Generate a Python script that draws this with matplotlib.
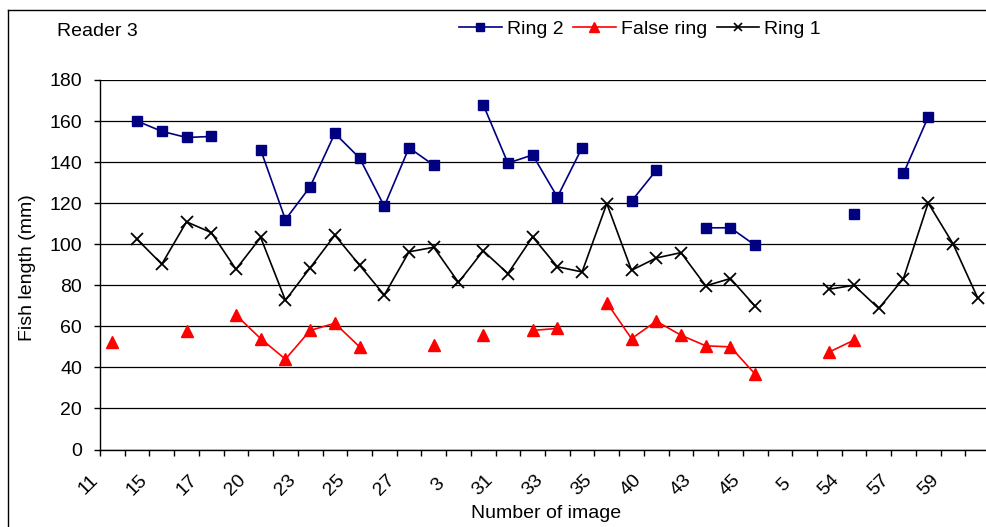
import numpy as np
import matplotlib
matplotlib.use("Agg")
import matplotlib.pyplot as plt
from matplotlib.lines import Line2D
from matplotlib.transforms import ScaledTranslation

plt.rcParams['font.family'] = ['Liberation Sans', 'DejaVu Sans']

nan = np.nan
categories = ['11', '12', '15', '16', '17', '18', '20', '21', '23', '24', '25', '26',
              '27', '28', '3', '30', '31', '32', '33', '34', '35', '36', '40', '41',
              '43', '44', '45', '46', '5', '53', '54', '56', '57', '58', '59', '6']
tick_labels = ['11', '15', '17', '20', '23', '25', '27', '3', '31', '33', '35', '40',
               '43', '45', '5', '54', '57', '59']

ring2 = [nan, 160, 155, 152, 152.5, nan, 146, 112, 128, 154, 142, 118.5,
         147, 138.5, nan, 168, 139.5, 143.5, 123, 147, nan, 121, 136, nan,
         108, 108, 99.5, nan, nan, nan, 114.5, nan, 134.5, 162, nan, nan]
false_ring = [52.5, nan, nan, 57.5, nan, 65.5, 54, 44, 58, 61.5, 50, nan,
              nan, 50.7, nan, 55.7, nan, 58, 59, nan, 71.5, 54, 62.5, 55.7,
              50.5, 50, 36.7, nan, nan, 47.5, 53.3, nan, nan, nan, nan, nan]
ring1 = [nan, 102.4, 90.3, 110.9, 105.7, 87.8, 103.3, 72.7, 88.5, 104.4, 89.8, 75.2,
         96.3, 98.5, 81.4, 96.8, 85.7, 103.6, 89, 86.5, 119.8, 87.3, 93.3, 95.9,
         79.7, 83.3, 69.8, nan, nan, 78.1, 80, 68.7, 83.3, 120.1, 100.3, 73.9]

W, H = 987, 527
fig = plt.figure(figsize=(W / 100, H / 100), dpi=100)
fig.patch.set_facecolor('white')

# outer chart border (cropped at right/bottom)
fig.add_artist(Line2D([8 / W, 8 / W], [0, 1 - 10 / H], transform=fig.transFigure,
                      color='black', lw=1.0))
fig.add_artist(Line2D([8 / W, 1], [1 - 10 / H, 1 - 10 / H], transform=fig.transFigure,
                      color='black', lw=1.0))

left, right = 100, 990
bottom, top = 449.5, 80
ax = fig.add_axes([left / W, 1 - bottom / H, (right - left) / W, (bottom - top) / H])

x = np.arange(len(categories))
ax.plot(x, ring2, color='#000080', lw=1.2, marker='s', ms=7.2,
        markerfacecolor='#000080', markeredgecolor='#000080', label='Ring 2', zorder=3)
ax.plot(x, false_ring, color='#FF0000', lw=1.2, marker='^', ms=8.6,
        markerfacecolor='#FF0000', markeredgecolor='#FF0000', label='False ring', zorder=3)
ax.plot(x, ring1, color='black', lw=1.2, marker='x', ms=8.6, mew=1.3,
        label='Ring 1', zorder=3)

ax.set_xlim(-0.5, len(categories) - 0.5)
ax.set_ylim(0, 180)
ax.set_yticks(np.arange(0, 181, 20))
ax.yaxis.grid(True, color='black', lw=0.9)
ax.set_axisbelow(True)
for s in ['top', 'right']:
    ax.spines[s].set_visible(False)
for s in ['left', 'bottom']:
    ax.spines[s].set_color('black')
    ax.spines[s].set_linewidth(1.0)

fs = 14
ax.tick_params(axis='y', direction='out', length=4, width=1, pad=9, labelsize=fs)

# category boundary tick marks
ax.set_xticks(np.arange(-0.5, len(categories), 1))
ax.set_xticklabels([])
ax.tick_params(axis='x', which='major', direction='out', length=4.5, width=1)
# labels on every second category
ax.set_xticks(x[::2], minor=True)
ax.set_xticklabels(tick_labels, minor=True)
ax.tick_params(axis='x', which='minor', length=0, pad=25.5, labelsize=fs)
off = ScaledTranslation(-11 / 100, 0, fig.dpi_scale_trans)
for lab in ax.get_xticklabels(minor=True):
    lab.set_rotation(45)
    lab.set_ha('right')
    lab.set_va('center')
    lab.set_transform(lab.get_transform() + off)

ax.set_xlabel('Number of image', fontsize=fs)
ax.xaxis.set_label_coords((546 - left) / (right - left), (bottom - 514) / (bottom - top))
ax.xaxis.label.set_va('center')
ax.set_ylabel('Fish length (mm)', fontsize=fs)
ax.yaxis.set_label_coords((28 - left) / (right - left), (bottom - 268) / (bottom - top))
ax.yaxis.label.set_va('center')

fig.text(57 / W, 1 - 36 / H, 'Reader 3', fontsize=fs, va='baseline', ha='left')

handles = [
    Line2D([], [], color='#000080', lw=1.2, marker='s', ms=5.5),
    Line2D([], [], color='#FF0000', lw=1.2, marker='^', ms=7.5),
    Line2D([], [], color='black', lw=1.2, marker='x', ms=6, mew=1.2),
]
fig.legend(handles, ['Ring 2', 'False ring', 'Ring 1'], ncol=3, frameon=False,
           loc='center left', bbox_to_anchor=(459 / W, 1 - 29 / H), fontsize=fs,
           handlelength=2.2, handletextpad=0.25, columnspacing=0.5,
           borderpad=0, borderaxespad=0)

fig.savefig('out.png', dpi=100)
